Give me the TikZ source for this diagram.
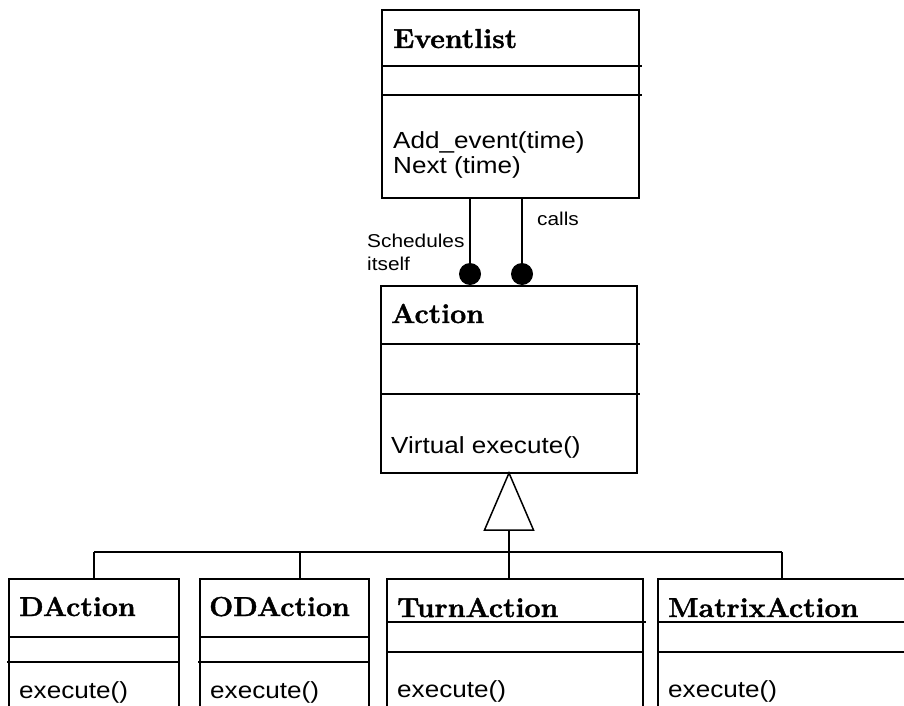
\documentclass[tikz,border=0pt]{standalone}
\usepackage{fontspec}
\newfontfamily\umlsans[FakeStretch=1.12]{Liberation Sans}
\newfontfamily\umlserif[FakeStretch=1.04,FakeBold=1.5]{Latin Modern Roman}
\begin{document}
\begin{tikzpicture}[x=1pt,y=-1pt,
  umlbox/.style={draw, line width=1.5pt, anchor=north west, inner sep=0pt, outer sep=0pt},
  rule/.style={line width=1.5pt},
  ttl/.style={anchor=base west, inner sep=0pt, font=\umlserif\bfseries\fontsize{27.4}{30}\selectfont},
  ops/.style={anchor=base west, inner sep=0pt, font=\umlsans\fontsize{23.3}{26}\selectfont},
  lbl/.style={anchor=base west, inner sep=0pt, font=\umlsans\fontsize{18.6}{22}\selectfont},
  ball/.style={circle, fill=black, inner sep=0pt, minimum size=22pt}]
\useasboundingbox (0,0) rectangle (904,706);
\clip (0,0) rectangle (904,706);

% class Eventlist
\node[umlbox, minimum width=257pt, minimum height=188pt] (ev) at (382,10) {};
\draw[rule] (ev.west |- 0,66) -- (642,66);
\draw[rule] (ev.west |- 0,95) -- (642,95);
\node[ttl] (evname) at (393,48) {Eventlist};
\node[ops] (evop1) at (393,148) {Add\_event(time)};
\node[ops] (evop2) at (393,173) {Next (time)};

% class Action
\node[umlbox, minimum width=256pt, minimum height=187pt] (act) at (381,286) {};
\draw[rule] (act.west |- 0,344) -- (640,344);
\draw[rule] (act.west |- 0,394) -- (640,394);
\node[ttl] (actname) at (391,323) {Action};
\node[ops] (actop) at (391,453) {Virtual execute()};

% associations Eventlist -- Action
\node[ball] (d1) at (470,274) {};
\node[ball] (d2) at (522,274) {};
\draw[rule] (d1 |- ev.south) -- (d1.center);
\draw[rule] (d2 |- ev.south) -- (d2.center);
\node[lbl] (sched1) at (367,247) {Schedules};
\node[lbl] (sched2) at (367,270) {itself};
\node[lbl] (calls) at (537,225) {calls};

% subclasses
\node[umlbox, minimum width=170pt, minimum height=200pt] (da) at (9,579) {};
\draw[rule] (da.west |- 0,637) -- (da.east |- 0,637);
\draw[rule] (7,662) -- (da.east |- 0,662);
\node[ttl] (daname) at (19,616) {DAction};
\node[ops] (daop) at (19,698) {execute()};

\node[umlbox, minimum width=169pt, minimum height=200pt] (oda) at (200,579) {};
\draw[rule] (oda.west |- 0,637) -- (oda.east |- 0,637);
\draw[rule] (198,662) -- (oda.east |- 0,662);
\node[ttl] (odaname) at (209,616) {ODAction};
\node[ops] (odaop) at (210,698) {execute()};

\node[umlbox, minimum width=256pt, minimum height=200pt] (ta) at (387,579) {};
\draw[rule] (ta.west |- 0,622) -- (646,622);
\draw[rule] (ta.west |- 0,652) -- (ta.east |- 0,652);
\node[ttl] (taname) at (397,617) {TurnAction};
\node[ops] (taop) at (397,697) {execute()};

\node[umlbox, minimum width=272pt, minimum height=200pt] (ma) at (658,579) {};
\draw[rule] (ma.west |- 0,622) -- (ma.east |- 0,622);
\draw[rule] (ma.west |- 0,652) -- (ma.east |- 0,652);
\node[ttl] (maname) at (668,617) {MatrixAction};
\node[ops] (maop) at (668,697) {execute()};

% generalization
\draw[rule, fill=white] (act.south) -- ++(-24.5,57) -- ++(24.5,0) coordinate (tb) -- ++(24.5,0) -- cycle;
\draw[rule] (tb) -- (tb |- ta.north);
\draw[rule] (94,552) coordinate (bl) -- (782,552) coordinate (br);
\coordinate (bm) at (300,552);
\draw[rule] (bl) -- (bl |- da.north);
\draw[rule] (bm) -- (bm |- oda.north);
\draw[rule] (br) -- (br |- ma.north);
\end{tikzpicture}
\end{document}
